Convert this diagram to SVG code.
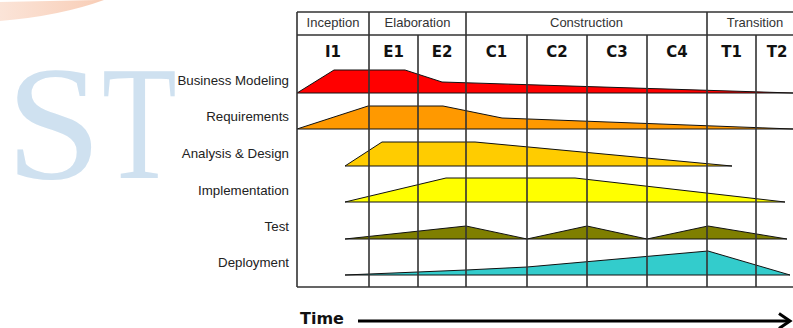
<svg xmlns="http://www.w3.org/2000/svg" width="793" height="328" viewBox="0 0 793 328">
  <defs>
    <linearGradient id="arcFill" x1="0" y1="0" x2="1" y2="0">
      <stop offset="0" stop-color="#fbe4d8"/>
      <stop offset="1" stop-color="#f8cdb6"/>
    </linearGradient>
    <style>
      .mark { font-family: "Liberation Serif", "Times New Roman", serif; font-size: 163px; fill: #cfe1f0; }
      .row { font-family: "Liberation Sans", Arial, sans-serif; font-size: 13.3px; fill: #222; text-anchor: end; }
      .phase { font-family: "Liberation Sans", Arial, sans-serif; font-size: 13px; fill: #333; text-anchor: middle; }
      .iter { font-family: "DejaVu Sans", Verdana, sans-serif; font-weight: bold; font-size: 15px; fill: #111; text-anchor: middle; }
      .time { font-family: "DejaVu Sans", Verdana, sans-serif; font-weight: bold; font-size: 16px; fill: #111; }
      .band { stroke: #111; stroke-width: 1; stroke-linejoin: round; }
      .grid { stroke: #333; stroke-width: 1.6; fill: none; }
    </style>
  </defs>

  <rect width="793" height="328" fill="#ffffff"/>

  <!-- background emblem -->
  <g id="emblem">
    <path d="M0,2 Q50,1 97,0 L104,0 Q60,16 0,21 Z" fill="url(#arcFill)"/>
    <text class="mark" transform="translate(13,178) scale(1.06,1)" x="-6.8">S</text>
    <text class="mark" transform="translate(104,178) scale(0.75,1)" x="-2.8">T</text>
  </g>

  <!-- discipline effort bands -->
  <g id="bands">
    <path id="band-business" class="band" fill="#ff0000" d="M297,93 L334,70 L405,70 L442,82 L793,93 Z"/>
    <path id="band-requirements" class="band" fill="#ff9900" d="M297,129 L368,106 L443,106 L502,118 L793,129 Z"/>
    <path id="band-analysis" class="band" fill="#ffcc00" d="M345,166 L382,142 L475,142 L732,166 Z"/>
    <path id="band-implementation" class="band" fill="#ffff00" d="M345,202 L446,178 L575,178 L785,202 Z"/>
    <path id="band-test" class="band" fill="#7f7f00" d="M345,239 L466,226 L527,239 L587,226 L647,239 L708,226 L787,239 Z"/>
    <path id="band-deployment" class="band" fill="#33cccc" d="M345,275 L466,270 L527,267 L708,251 L790,275 Z"/>
  </g>

  <!-- phase / iteration grid -->
  <g id="grid" class="grid">
    <path d="M297,12 H793 M297,35 H793 M297,287 H793 M297,12 V287"/>
    <path d="M369,12 V287 M466,12 V287 M707,12 V287"/>
    <path d="M418,35 V287 M527,35 V287 M587,35 V287 M647,35 V287 M756,35 V287"/>
  </g>

  <!-- phase headers -->
  <g id="phases">
    <text class="phase" x="333" y="27">Inception</text>
    <text class="phase" x="417.5" y="27">Elaboration</text>
    <text class="phase" x="586.5" y="27">Construction</text>
    <text class="phase" x="755" y="27">Transition</text>
  </g>

  <!-- iteration headers -->
  <g id="iterations">
    <text class="iter" x="333" y="57">I1</text>
    <text class="iter" x="393.5" y="57">E1</text>
    <text class="iter" x="442" y="57">E2</text>
    <text class="iter" x="496.5" y="57">C1</text>
    <text class="iter" x="557" y="57">C2</text>
    <text class="iter" x="617" y="57">C3</text>
    <text class="iter" x="677" y="57">C4</text>
    <text class="iter" x="731.5" y="57">T1</text>
    <text class="iter" x="777" y="57">T2</text>
  </g>

  <!-- discipline labels -->
  <g id="disciplines">
    <text class="row" x="289" y="85">Business Modeling</text>
    <text class="row" x="289" y="121">Requirements</text>
    <text class="row" x="289" y="158">Analysis &amp; Design</text>
    <text class="row" x="289" y="195">Implementation</text>
    <text class="row" x="289" y="231">Test</text>
    <text class="row" x="289" y="267">Deployment</text>
  </g>

  <!-- time axis -->
  <g id="time-axis">
    <text class="time" x="300" y="324">Time</text>
    <path d="M358,321 H789" stroke="#000" stroke-width="3" fill="none"/>
    <path d="M779,313.5 L790,321 L779,328.5" stroke="#000" stroke-width="3" fill="none" stroke-linejoin="miter"/>
  </g>
</svg>
